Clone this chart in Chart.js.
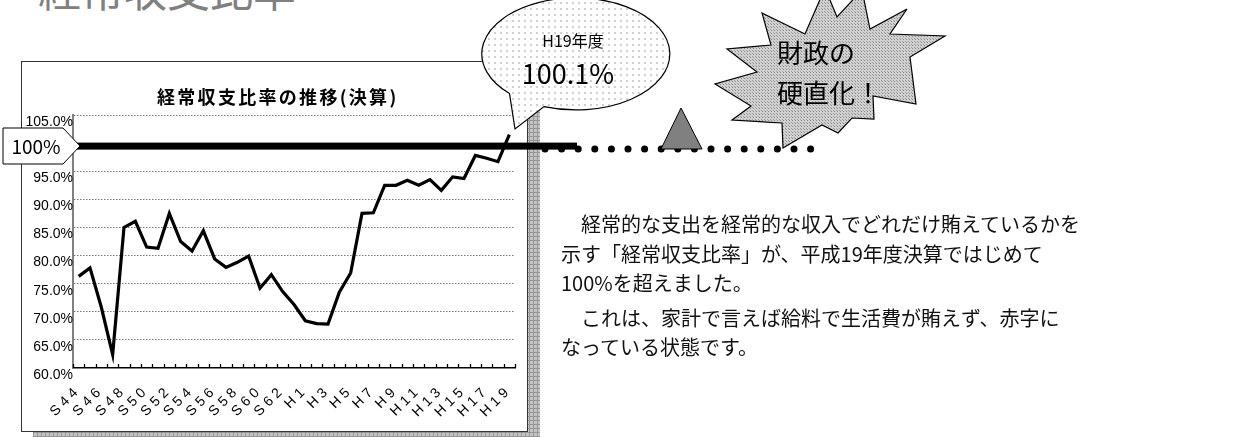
<!DOCTYPE html>
<html lang="ja">
<head>
<meta charset="utf-8">
<title>経常収支比率</title>
<script src="https://cdn.jsdelivr.net/npm/chart.js@4.4.1/dist/chart.umd.min.js"></script>
<style>
  html,body{margin:0;padding:0;background:#fff;}
  #stage{position:relative;width:1235px;height:437px;overflow:hidden;font-family:"Noto Sans CJK JP","Noto Sans",sans-serif;}
  .abs{position:absolute;}
  #shadow{left:33px;top:72px;width:507px;height:371px;background-color:#c4c4c4;
    background-image:linear-gradient(#979797 1px,transparent 1px),linear-gradient(90deg,#979797 1px,transparent 1px);
    background-size:4px 4px;}
  #frame{left:21px;top:61px;width:505px;height:369px;border:1px solid #333;background:#fff;}
  #chart{left:0;top:0;}
  #deco{left:0;top:0;}
  #bigTitle{left:38px;top:-33px;font-size:43px;line-height:43px;color:#808080;white-space:nowrap;}
  #chartTitle{left:157px;top:86px;font-size:18px;line-height:20px;font-weight:bold;letter-spacing:2.3px;white-space:nowrap;}
  #label100{left:4px;top:134px;width:64px;text-align:center;font-size:19px;line-height:24px;}
  #bubble1{left:518px;top:30px;width:110px;text-align:center;font-size:16px;line-height:20px;}
  #bubble2{left:508px;top:56px;width:120px;text-align:center;font-size:27px;line-height:34px;}
  #burst{left:777px;top:32px;font-size:26px;line-height:40px;white-space:nowrap;}
  #note{left:561px;top:209px;font-size:20px;line-height:29.5px;white-space:nowrap;color:#111;}
  #note p{margin:0;}
  #note p + p{margin-top:5px;}
</style>
</head>
<body>
<div id="stage">
  <div id="bigTitle" class="abs">経常収支比率</div>
  <div id="shadow" class="abs"></div>
  <div id="frame" class="abs"></div>
  <canvas id="chart" class="abs" width="1235" height="437"></canvas>
  <svg id="deco" class="abs" width="1235" height="437" viewBox="0 0 1235 437">
    <defs>
      <pattern id="dots" width="6" height="6" patternUnits="userSpaceOnUse">
        <rect width="6" height="6" fill="#fff"/>
        <circle cx="3" cy="3" r="0.9" fill="#bbb"/>
      </pattern>
      <pattern id="mesh" width="3" height="3" patternUnits="userSpaceOnUse">
        <rect width="3" height="3" fill="#d0d0d0"/>
        <rect width="1" height="1" fill="#8a8a8a"/>
        <rect x="2" y="2" width="1" height="1" fill="#a0a0a0"/>
      </pattern>
    </defs>
    <!-- 100% pointer label -->
    <polygon points="3,128 63,128 80,146 63,164 3,164" fill="#fff" stroke="#000" stroke-width="1"/>
    <!-- speech bubble -->
    <path d="M509.5,93.6 L515,129 L544,106.6 A94,56 0 1 0 509.5,93.6 Z" fill="url(#dots)" stroke="#000" stroke-width="1.2"/>
    <!-- warning triangle -->
    <polygon points="661,149 681,108 702,149" fill="#808080" stroke="#000" stroke-width="1"/>
    <!-- starburst -->
    <polygon fill="url(#mesh)" stroke="#000" stroke-width="1.2"
      points="762,13 805,34 825,-12 837,17 862,-10 870,29 907,9 890,34 945,36 910,57 916,104 873,96 874,119 852,118 838,133 822,125 783,148 782,123 732,120 751,106 715,84 757,72 727,49 771,45"/>
  </svg>
  <div id="chartTitle" class="abs">経常収支比率の推移(決算)</div>
  <div id="label100" class="abs">100%</div>
  <div id="bubble1" class="abs">H19年度</div>
  <div id="bubble2" class="abs">100.1%</div>
  <div id="burst" class="abs">財政の<br>硬直化！</div>
  <div id="note" class="abs">
    <p>　経常的な支出を経常的な収入でどれだけ賄えているかを<br>示す「経常収支比率」が、平成19年度決算ではじめて<br>100%を超えました。</p>
    <p>　これは、家計で言えば給料で生活費が賄えず、赤字に<br>なっている状態です。</p>
  </div>
</div>
<script>
// 経常収支比率 S44(1969) .. H19(2007)
const years = [
  'S44','S45','S46','S47','S48','S49','S50','S51','S52','S53',
  'S54','S55','S56','S57','S58','S59','S60','S61','S62','S63',
  'H1','H2','H3','H4','H5','H6','H7','H8','H9','H10',
  'H11','H12','H13','H14','H15','H16','H17','H18','H19'
];
const ratio = [
  76.3, 77.8, 70.8, 62.4, 85.0, 86.1, 81.5, 81.3, 87.5, 82.5,
  80.8, 84.4, 79.4, 77.9, 78.8, 79.9, 74.2, 76.6, 73.6, 71.3,
  68.4, 67.9, 67.8, 73.5, 76.9, 87.5, 87.6, 92.5, 92.5, 93.4,
  92.5, 93.5, 91.6, 94.0, 93.7, 97.8, 97.3, 96.7, 101.5
];
const yMin = 60, yMax = 105, yStep = 5;
const limitLine = 100;

// where the plot box sits on the page
const plotBox = {left: 73, top: 115, right: 515, bottom: 368};

const overlay = {
  id: 'overlay',
  afterLayout(chart){
    // wide-spaced category labels like the original
    const xs = chart.scales.x;
    if(xs._spaced) return;
    const orig = xs.drawLabels;
    xs.drawLabels = function(area){
      this.ctx.save();
      this.ctx.letterSpacing = '4px';
      orig.call(this, area);
      this.ctx.restore();
    };
    xs._spaced = true;
  },
  afterDatasetsDraw(chart){
    const {ctx} = chart;
    const xs = chart.scales.x, ys = chart.scales.y;
    // inward tick marks between categories
    const n = xs.ticks.length;
    const w = (xs.right - xs.left) / n;
    ctx.save();
    ctx.strokeStyle = '#000';
    ctx.lineWidth = 1.3;
    ctx.beginPath();
    for(let i=0;i<=n;i++){
      const x = Math.round(xs.left + i*w) + 0.5;
      ctx.moveTo(x, ys.bottom);
      ctx.lineTo(x, ys.bottom - 4);
    }
    ctx.stroke();
    ctx.restore();
  },
  afterDraw(chart){
    const {ctx} = chart;
    const ys = chart.scales.y, xs = chart.scales.x;
    const y = ys.getPixelForValue(limitLine) + 3;
    ctx.save();
    // heavy 100% bar
    ctx.fillStyle = '#000';
    ctx.fillRect(xs.left, y - 3.5, 577 - xs.left, 7);
    // dotted continuation
    for(let i=0;i<17;i++){
      ctx.beginPath();
      ctx.arc(545 + i*16.6, y + 3, 3.5, 0, Math.PI*2);
      ctx.fill();
    }
    ctx.restore();
  }
};

const chart = new Chart(document.getElementById('chart'), {
  type: 'line',
  data: {
    labels: years,
    datasets: [{
      data: ratio,
      borderColor: '#000',
      borderWidth: 3.2,
      borderJoinStyle: 'miter',
      pointRadius: 0,
      tension: 0,
      fill: false
    }]
  },
  options: {
    responsive: false,
    animation: false,
    devicePixelRatio: 1,
    plugins: { legend: {display:false}, tooltip: {enabled:false} },
    layout: { padding: {left: 0, top: plotBox.top, right: 1235 - plotBox.right, bottom: 0} },
    scales: {
      x: {
        offset: true,
        grid: { display: false },
        border: { display: true, color: '#000', width: 1.6 },
        ticks: {
          autoSkip: false, maxRotation: 45, minRotation: 45,
          padding: 6, color: '#000',
          font: { family: 'Liberation Sans', size: 14 },
          callback(v, i){ return i % 2 === 0 ? years[i] : ''; }
        },
        afterFit(s){ s.height = 437 - plotBox.bottom; }
      },
      y: {
        min: yMin, max: yMax,
        grid: {
          drawTicks: false,
          color: ctx => (ctx.tick && (ctx.tick.value === yMin || ctx.tick.value === limitLine)) ? 'rgba(0,0,0,0)' : '#7a7a7a',
          lineWidth: 1
        },
        border: { display: true, color: '#808080', width: 2, dash: [1.5, 1.5] },
        ticks: {
          stepSize: yStep, padding: 0, labelOffset: 7, color: '#000',
          font: { family: 'Liberation Sans', size: 14 },
          callback: v => v.toFixed(1) + '%'
        },
        afterFit(s){ s.width = plotBox.left; }
      }
    }
  },
  plugins: [overlay]
});

// nudge the padding so the plot box lands where the original one is
(function fitBox(){
  const a = chart.chartArea;
  const p = chart.options.layout.padding;
  p.top += plotBox.top - a.top;
  p.left += plotBox.left - a.left;
  p.right += a.right - plotBox.right;
  p.bottom += a.bottom - plotBox.bottom;
  chart.update();
})();
</script>
</body>
</html>
